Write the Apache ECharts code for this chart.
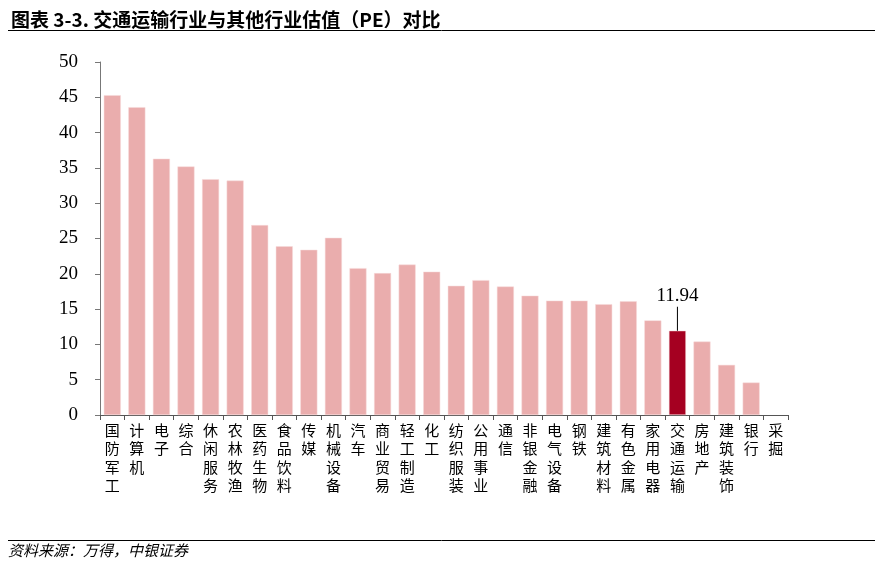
<!DOCTYPE html>
<html><head><meta charset="utf-8">
<script src="https://cdn.jsdelivr.net/npm/echarts@6/dist/echarts.min.js"></script>
<style>html,body{margin:0;padding:0;background:#fff}#c{width:880px;height:566px}</style>
</head><body><div id="c"></div>
<script>
const categories = ['国防军工','计算机','电子','综合','休闲服务','农林牧渔','医药生物','食品饮料','传媒','机械设备','汽车','商业贸易','轻工制造','化工','纺织服装','公用事业','通信','非银金融','电气设备','钢铁','建筑材料','有色金属','家用电器','交通运输','房地产','建筑装饰','银行','采掘'];
const peValues = [45.3,43.6,36.3,35.2,33.4,33.2,26.9,23.9,23.4,25.1,20.8,20.1,21.3,20.3,18.3,19.1,18.2,16.9,16.2,16.2,15.7,16.1,13.4,11.94,10.4,7.1,4.6,null];
const highlightName = '交通运输';
const yTicks = {min:0, max:50, interval:5};

const chart = echarts.init(document.getElementById('c'));
const data = peValues.map((v,i)=>{
  if (categories[i] === highlightName) {
    return {value:v, itemStyle:{color:'#A50021'},
      label:{show:true, position:'top', distance:0,
        formatter:'{v|'+v.toFixed(2)+'}\n{l|}',
        rich:{v:{fontFamily:'Liberation Serif', fontSize:19, color:'#000', lineHeight:22, align:'center'},
              l:{width:1, height:24, backgroundColor:'#000', align:'center'}}}};
  }
  return {value:v};
});
chart.setOption({
  animation:false,
  title:{text:'图表 3-3. 交通运输行业与其他行业估值（PE）对比', left:6, top:5,
    textStyle:{fontFamily:'Noto Sans CJK SC', fontWeight:'bold', fontSize:19, color:'#000'}},
  grid:{left:100, right:92, top:62, bottom:151},
  xAxis:{type:'category', data:categories,
    axisLine:{lineStyle:{color:'#555', width:1}},
    axisTick:{show:true, length:5, lineStyle:{color:'#555'}},
    axisLabel:{interval:0, margin:6, color:'#000', fontFamily:'Noto Sans CJK SC', fontSize:15, lineHeight:18.5,
      formatter:s=>s.split('').join('\n')}},
  yAxis:{type:'value', min:yTicks.min, max:yTicks.max, interval:yTicks.interval,
    splitLine:{show:false},
    axisLine:{show:true, lineStyle:{color:'#777'}},
    axisTick:{show:true, length:5, lineStyle:{color:'#777'}},
    axisLabel:{margin:22, color:'#000', fontFamily:'Liberation Serif', fontSize:19}},
  series:[{type:'bar', data:data, barWidth:17,
    itemStyle:{color:'#EAADAD', borderColor:'#F6DADA', borderWidth:0.5}}],
  graphic:[
    {type:'line', shape:{x1:8,y1:30.5,x2:875,y2:30.5}, style:{stroke:'#000', lineWidth:1}},
    {type:'line', shape:{x1:8,y1:540.5,x2:875,y2:540.5}, style:{stroke:'#000', lineWidth:1}},
    {type:'text', left:8, top:543, style:{text:'资料来源：万得，中银证券', fontFamily:'Noto Sans CJK SC', fontStyle:'italic', fontSize:15, fill:'#000'}}
  ]
});
</script></body></html>
